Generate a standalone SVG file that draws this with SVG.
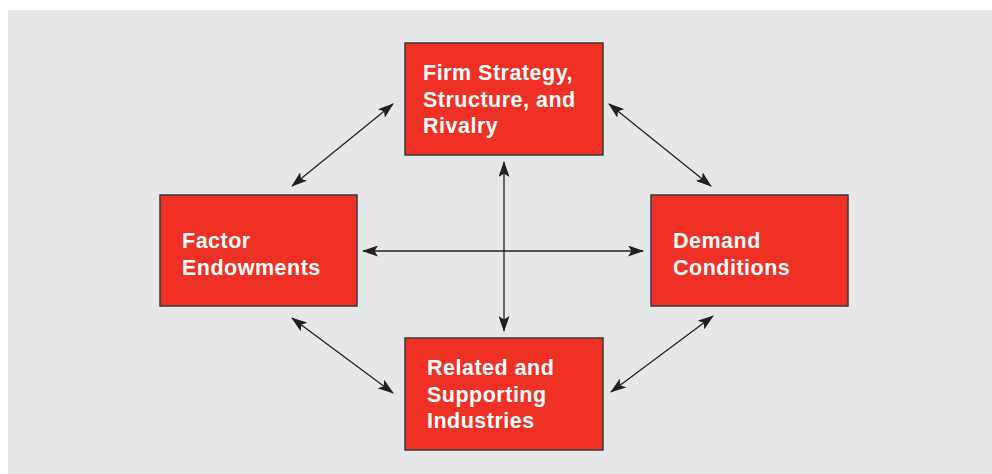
<svg xmlns="http://www.w3.org/2000/svg" width="992" height="474" viewBox="0 0 992 474">
<style>
.bg{fill:#e6e7e8}
.box{fill:#ee3124;stroke:#3a3a3a;stroke-width:1.5}
.lbl{font-family:"Liberation Sans",Arial,sans-serif;font-weight:bold;font-size:21.5px;fill:#ffffff;letter-spacing:0.5px}
.con{stroke:#231f20;stroke-width:1.3;fill:none;marker-start:url(#ah);marker-end:url(#ah)}
</style>
<defs>
<marker id="ah" viewBox="0 0 16 11" refX="15" refY="5.5" markerWidth="16" markerHeight="11" markerUnits="userSpaceOnUse" orient="auto-start-reverse">
<path d="M0,0 L16,5.5 L0,11 L3.5,5.5 Z" fill="#231f20"/>
</marker>
</defs>
<rect class="bg" x="8" y="10" width="984" height="464"/>
<g id="connectors">
<line class="con" x1="393" y1="104" x2="292" y2="186"/>
<line class="con" x1="609" y1="104" x2="711" y2="186"/>
<line class="con" x1="292" y1="318" x2="393" y2="393"/>
<line class="con" x1="713" y1="316" x2="611" y2="392"/>
<line class="con" x1="363" y1="251" x2="643" y2="251"/>
<line class="con" x1="504" y1="162" x2="504" y2="331"/>
</g>
<g id="firm">
<rect class="box" x="405" y="43" width="198" height="112"/>
<text class="lbl"><tspan x="423" y="80">Firm Strategy,</tspan><tspan x="423" y="106.5">Structure, and</tspan><tspan x="423" y="133">Rivalry</tspan></text>
</g>
<g id="factor">
<rect class="box" x="160" y="195" width="197" height="111"/>
<text class="lbl"><tspan x="182" y="248">Factor</tspan><tspan x="182" y="275">Endowments</tspan></text>
</g>
<g id="demand">
<rect class="box" x="651" y="195" width="197" height="111"/>
<text class="lbl"><tspan x="673" y="248">Demand</tspan><tspan x="673" y="275">Conditions</tspan></text>
</g>
<g id="related">
<rect class="box" x="405" y="338" width="198" height="112"/>
<text class="lbl"><tspan x="427" y="375">Related and</tspan><tspan x="427" y="402">Supporting</tspan><tspan x="427" y="428">Industries</tspan></text>
</g>
</svg>
